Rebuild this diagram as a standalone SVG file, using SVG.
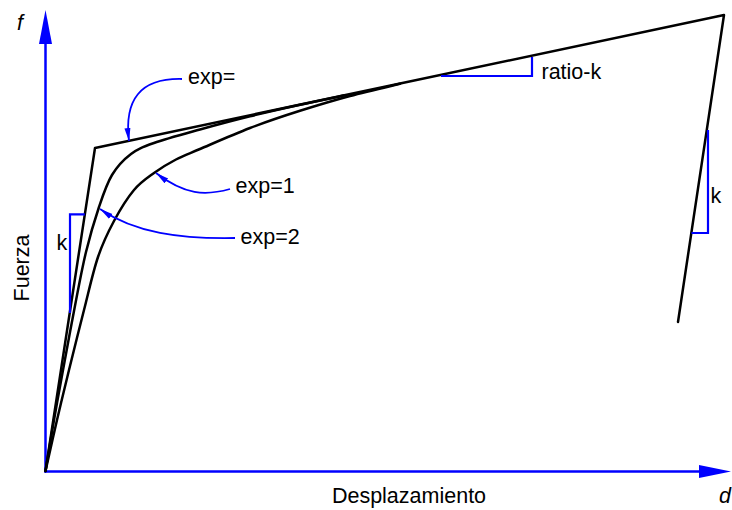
<svg xmlns="http://www.w3.org/2000/svg" width="732" height="510" viewBox="0 0 732 510">
<style>
  text { font-family: "Liberation Sans", Arial, sans-serif; font-size: 21.5px; fill: #000; }
  .it { font-style: italic; }
  .axis { stroke: #0000ff; stroke-width: 2.5; fill: none; }
  .head { fill: #0000ff; stroke: none; }
  .blk { stroke: #000; stroke-width: 2.5; fill: none; stroke-linejoin: round; stroke-linecap: round; }
  .ann { stroke: #0000ff; stroke-width: 1.8; fill: none; }
  .tri { stroke: #0000ff; stroke-width: 2.2; fill: none; }
</style>
<defs>
  <marker id="ah" markerUnits="userSpaceOnUse" markerWidth="14" markerHeight="8" viewBox="-13 -4 14 8" refX="0" refY="0" orient="auto">
    <path d="M0,0 L-13,-3 L-13,3 Z" fill="#0000ff"/>
  </marker>
</defs>
<rect width="732" height="510" fill="#fff"/>

<g id="axes">
  <line class="axis" x1="45.5" y1="472.5" x2="45.5" y2="42"/>
  <polygon class="head" points="45.5,10 39,44 52,44"/>
  <line class="axis" x1="44.3" y1="471.5" x2="701" y2="471.5"/>
  <polygon class="head" points="731,471.5 699,465 699,478"/>
  <text class="it" x="17" y="30">f</text>
  <text class="it" x="719" y="503">d</text>
  <text x="409" y="503" text-anchor="middle">Desplazamiento</text>
  <text x="0" y="0" text-anchor="middle" transform="translate(29,268) rotate(-90)">Fuerza</text>
</g>

<g id="connectors">
  <path id="bilinear" class="blk" d="M45.5,471 L95,148 L724,15 L678,322"/>
  <path id="curve-exp2" class="blk" d="M45.5,471 C46.9,462.5 51.1,436.8 54,420 C56.9,403.2 59.7,388.2 63,370 C66.3,351.8 70.2,330.7 74,311 C77.8,291.3 81.8,269.3 86,252 C90.2,234.7 94.7,219.8 99,207 C103.3,194.2 106.7,183.8 112,175 C117.3,166.2 124,159.3 131,154 C138,148.7 142.5,147.1 154,143 C165.5,138.9 184,133.95 200,129.5 C216,125.05 233.3,120.4 250,116.3 C266.7,112.2 284.2,108.3 300,104.8 C315.8,101.3 337.5,96.9 345,95.3"/>
  <path id="curve-exp1" class="blk" d="M45.5,471 C47.4,462.5 53.1,436.8 57,420 C60.9,403.2 64.5,388.3 69,370 C73.5,351.7 79.2,328.8 84,310 C88.8,291.2 93,271.8 98,257 C103,242.2 108,232.2 114,221 C120,209.8 127.3,198 134,190 C140.7,182 147,178.1 154,173 C161,167.9 168.3,163.5 176,159.5 C183.7,155.5 187.7,154.25 200,149 C212.3,143.75 233.3,134.4 250,128 C266.7,121.6 283.3,116.1 300,110.8 C316.7,105.5 333.3,100.5 350,96 C366.7,91.5 391.7,85.8 400,83.8"/>

  <path id="arrow-exp" class="ann" marker-end="url(#ah)" d="M182,79 C140,78 124,100 129,141"/>
  <path id="arrow-exp1" class="ann" marker-end="url(#ah)" d="M230,189 C205,196 185,195 156,173"/>
  <path id="arrow-exp2" class="ann" marker-end="url(#ah)" d="M235,238 C180,239 135,233 100,209"/>

  <path id="tri-k-left" class="tri" d="M84.8,214.3 L70,214.3 L70,313"/>
  <path id="tri-ratio" class="tri" d="M441,76 L532,76 L532,57"/>
  <path id="tri-k-right" class="tri" d="M708,130 L708,233 L691.5,233"/>
</g>

<g id="label-exp"><text x="188" y="84">exp=</text></g>
<g id="label-exp1"><text x="235.5" y="193">exp=1</text></g>
<g id="label-exp2"><text x="240.5" y="244">exp=2</text></g>
<g id="label-ratio"><text x="541.5" y="78.5">ratio-k</text></g>
<g id="label-k-left"><text x="56.5" y="250">k</text></g>
<g id="label-k-right"><text x="710.5" y="203">k</text></g>
</svg>
